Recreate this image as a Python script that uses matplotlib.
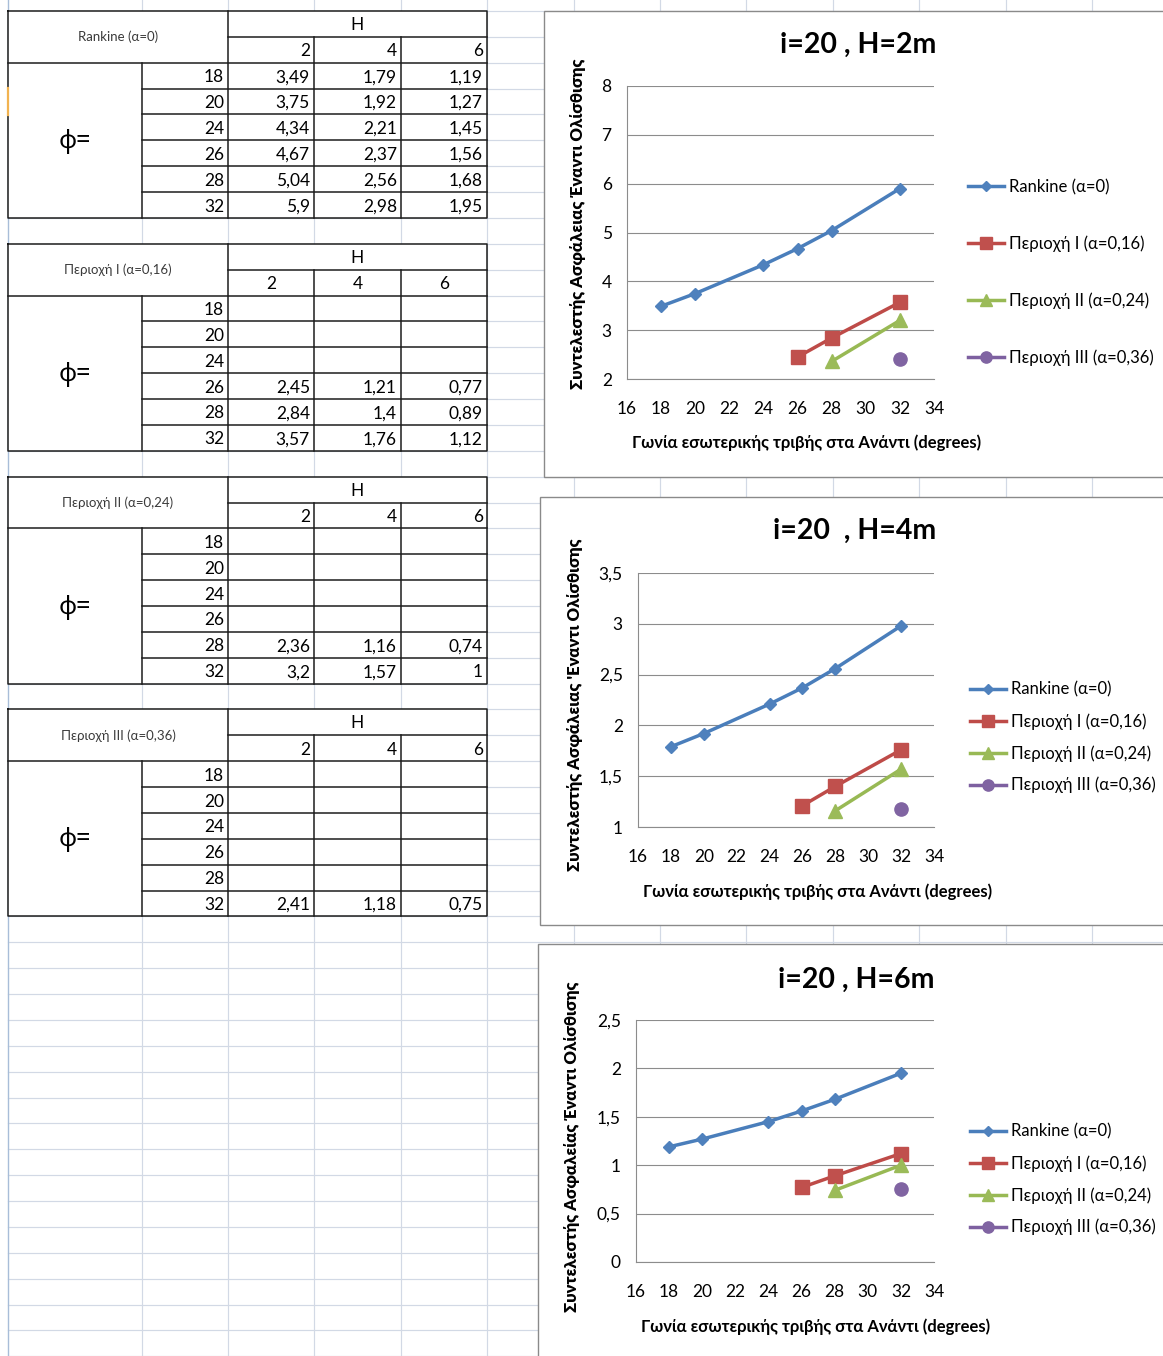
import matplotlib
matplotlib.use("Agg")
import matplotlib.pyplot as plt
from matplotlib.patches import Rectangle
from matplotlib.ticker import FixedLocator, FuncFormatter

plt.rcParams['font.family'] = ['Lato', 'Noto Sans', 'DejaVu Sans']

# ---------------------------------------------------------------- data
phi = [18, 20, 24, 26, 28, 32]
wall_heights = [2, 4, 6]

# factor of safety per friction angle, columns: H = 2, 4, 6 m
rankine_fs = [[3.49, 1.79, 1.19],
              [3.75, 1.92, 1.27],
              [4.34, 2.21, 1.45],
              [4.67, 2.37, 1.56],
              [5.04, 2.56, 1.68],
              [5.9, 2.98, 1.95]]
zone1_phi = [26, 28, 32]
zone1_fs = [[2.45, 1.21, 0.77],
            [2.84, 1.4, 0.89],
            [3.57, 1.76, 1.12]]
zone2_phi = [28, 32]
zone2_fs = [[2.36, 1.16, 0.74],
            [3.2, 1.57, 1]]
zone3_phi = [32]
zone3_fs = [[2.41, 1.18, 0.75]]

series_labels = ['Rankine (α=0)', 'Περιοχή I (α=0,16)',
                 'Περιοχή II (α=0,24)', 'Περιοχή III (α=0,36)']
chart_titles = ['i=20 , H=2m', 'i=20  , H=4m', 'i=20 , H=6m']
x_label = 'Γωνία εσωτερικής τριβής στα Ανάντι (degrees)'
y_labels = ['Συντελεστής Ασφάλειας Έναντι Ολίσθισης',
            "Συντελεστής Ασφάλειας 'Εναντι Ολίσθισης",
            'Συντελεστής Ασφαλείας Έναντι Ολίσθισης']
x_ticks = [16, 18, 20, 22, 24, 26, 28, 30, 32, 34]
y_ticks = [[2, 3, 4, 5, 6, 7, 8],
           [1, 1.5, 2, 2.5, 3, 3.5],
           [0, 0.5, 1, 1.5, 2, 2.5]]

# ---------------------------------------------------------------- styles
W, H = 1163, 1356
colors = ['#4F81BD', '#C0504D', '#9BBB59', '#8064A2']
line_colors = ['#4A7EBB', '#BE4B48', '#98B954', '#7D60A0']
markers = ['D', 's', '^', 'o']
marker_sizes = [6.4, 9.5, 10, 9.5]
GRID = '#d2d9e5'
BORDER = '#1c1c1c'


def excel_num(v):
    return f"{v:g}".replace('.', ',')


def fig_rect(x0, y0, x1, y1):
    return [x0 / W, 1 - y1 / H, (x1 - x0) / W, (y1 - y0) / H]


def fig_pt(x, y):
    return x / W, 1 - y / H


fig = plt.figure(figsize=(W / 100, H / 100), dpi=100)
bg = fig.add_axes([0, 0, 1, 1])
bg.set_xlim(0, W)
bg.set_ylim(H, 0)
bg.axis('off')

# ---------------------------------------------------------------- sheet grid
ROW0, RH = 11.0, 25.87
row_y = [ROW0 + k * RH for k in range(53)]
col_x = [8, 142, 228, 314, 401, 487, 574, 660, 746, 833, 919, 1006, 1092]
for y in row_y:
    bg.plot([8, W], [y, y], color=GRID, lw=0.85, zorder=1)
for x in col_x[1:]:
    bg.plot([x, x], [0, H], color=GRID, lw=0.85, zorder=1)
bg.plot([8, 8], [0, H], color='#a8bdd8', lw=1.0, zorder=1)
bg.plot([8, 8], [88, 115], color='#f2b350', lw=1.6, zorder=4)

# ---------------------------------------------------------------- tables
tables = [
    (phi, rankine_fs, 'right'),
    (zone1_phi, zone1_fs, 'center'),
    (zone2_phi, zone2_fs, 'right'),
    (zone3_phi, zone3_fs, 'right'),
]
x_left, x_mid, x_hdr = 8, 142, 228
val_cols = [228, 314, 401, 487]
for t, (t_phi, t_vals, head_align) in enumerate(tables):
    rows = row_y[9 * t: 9 * t + 9]
    top, bot = rows[0], rows[8]
    bg.add_patch(Rectangle((x_left, top), 487 - x_left, bot - top,
                           facecolor='white', edgecolor='none', zorder=2))
    kw = dict(color=BORDER, lw=1.1, zorder=3, solid_capstyle='projecting')
    # outer box and inner borders
    bg.plot([x_left, 487, 487, x_left, x_left], [top, top, bot, bot, top], **kw)
    bg.plot([x_left, 487], [rows[2], rows[2]], **kw)
    bg.plot([x_hdr, 487], [rows[1], rows[1]], **kw)
    bg.plot([x_hdr, x_hdr], [top, bot], **kw)
    for x in val_cols[1:3]:
        bg.plot([x, x], [rows[1], bot], **kw)
    bg.plot([x_mid, x_mid], [rows[2], bot], **kw)
    for y in rows[3:8]:
        bg.plot([x_mid, 487], [y, y], **kw)

    bg.text((x_left + x_hdr) / 2, rows[1], series_labels[t], fontsize=9.5,
            color='#3a3a3a', ha='center', va='center', zorder=5)
    bg.text((x_hdr + 487) / 2, (rows[0] + rows[1]) / 2 + 1, 'H', fontsize=12.5,
            ha='center', va='center', zorder=5)
    for j, hgt in enumerate(wall_heights):
        yc = (rows[1] + rows[2]) / 2 + 1.5
        if head_align == 'center':
            bg.text((val_cols[j] + val_cols[j + 1]) / 2, yc, str(hgt),
                    fontsize=12.5, ha='center', va='center', zorder=5)
        else:
            bg.text(val_cols[j + 1] - 4, yc, str(hgt), fontsize=12.5,
                    ha='right', va='center', zorder=5)
    bg.text(75, (rows[2] + rows[8]) / 2 + 1, 'ϕ=', fontsize=18,
            ha='center', va='center', zorder=5,
            family=['Noto Sans', 'DejaVu Sans'])
    lookup = dict(zip(t_phi, t_vals))
    for i, p in enumerate(phi):
        yc = (rows[2 + i] + rows[3 + i]) / 2 + 1.5
        bg.text(x_hdr - 4, yc, str(p), fontsize=12.5, ha='right', va='center',
                zorder=5)
        if p in lookup:
            for j, v in enumerate(lookup[p]):
                bg.text(val_cols[j + 1] - 4, yc, excel_num(v), fontsize=12.5,
                        ha='right', va='center', zorder=5)

# ---------------------------------------------------------------- charts
chart_frames = [(544, 11, 1180, 477), (540, 497, 1180, 925),
                (538, 944, 1180, 1370)]
plot_boxes = [(627, 86, 934, 379), (638, 573, 934, 827),
              (636, 1020, 934, 1262)]
title_pos = [(858, 45), (855, 531), (856, 980)]
xlabel_pos = [(807, 443), (818, 892), (816, 1327)]
ylabel_pos = [(578, 224), (575, 705), (572, 1147)]
legend_pos = [(968, 186, 359, 2.42), (970, 689, 786, 0.92),
              (970, 1131, 1228, 0.92)]

series = [(phi, rankine_fs), (zone1_phi, zone1_fs),
          (zone2_phi, zone2_fs), (zone3_phi, zone3_fs)]

for c in range(3):
    fx0, fy0, fx1, fy1 = chart_frames[c]
    bg.add_patch(Rectangle((fx0, fy0), fx1 - fx0, fy1 - fy0,
                           facecolor='white', edgecolor='#8a8a8a', lw=1.0,
                           zorder=6))
    ax = fig.add_axes(fig_rect(*plot_boxes[c]))
    ax.set_facecolor('none')
    for s, (sx, sv) in enumerate(series):
        ax.plot(sx, [row[c] for row in sv], color=line_colors[s], lw=2.5,
                marker=markers[s], markersize=marker_sizes[s],
                markerfacecolor=colors[s], markeredgecolor=colors[s],
                label=series_labels[s], zorder=3)
    ax.set_xlim(16, 34)
    ax.set_ylim(y_ticks[c][0], y_ticks[c][-1])
    ax.xaxis.set_major_locator(FixedLocator(x_ticks))
    ax.yaxis.set_major_locator(FixedLocator(y_ticks[c]))
    ax.yaxis.set_major_formatter(FuncFormatter(lambda v, _: excel_num(v)))
    ax.grid(axis='y', color='#8c8c8c', lw=0.8, zorder=0)
    ax.set_axisbelow(True)
    for side in ('top', 'right'):
        ax.spines[side].set_visible(False)
    for side in ('left', 'bottom'):
        ax.spines[side].set_color('#8c8c8c')
        ax.spines[side].set_linewidth(0.8)
    ax.tick_params(axis='both', length=0, labelsize=12.5)
    ax.tick_params(axis='x', pad=16)
    ax.tick_params(axis='y', pad=11)

    fig.text(*fig_pt(*title_pos[c]), chart_titles[c], fontsize=20.5,
             fontweight='bold', ha='center', va='center')
    fig.text(*fig_pt(*xlabel_pos[c]), x_label, fontsize=12,
             fontweight='bold', ha='center', va='center')
    fig.text(*fig_pt(*ylabel_pos[c]), y_labels[c], fontsize=12,
             fontweight='heavy', ha='center', va='center', rotation=90)

    lx, ly0, ly1, spacing = legend_pos[c]
    ax.legend(loc='center left',
              bbox_to_anchor=fig_pt(lx, (ly0 + ly1) / 2),
              bbox_transform=fig.transFigure, frameon=False, fontsize=12,
              handlelength=2.15, handletextpad=0.3, labelspacing=spacing,
              borderpad=0, borderaxespad=0, markerscale=0.85)

fig.savefig('out.png', dpi=100)
